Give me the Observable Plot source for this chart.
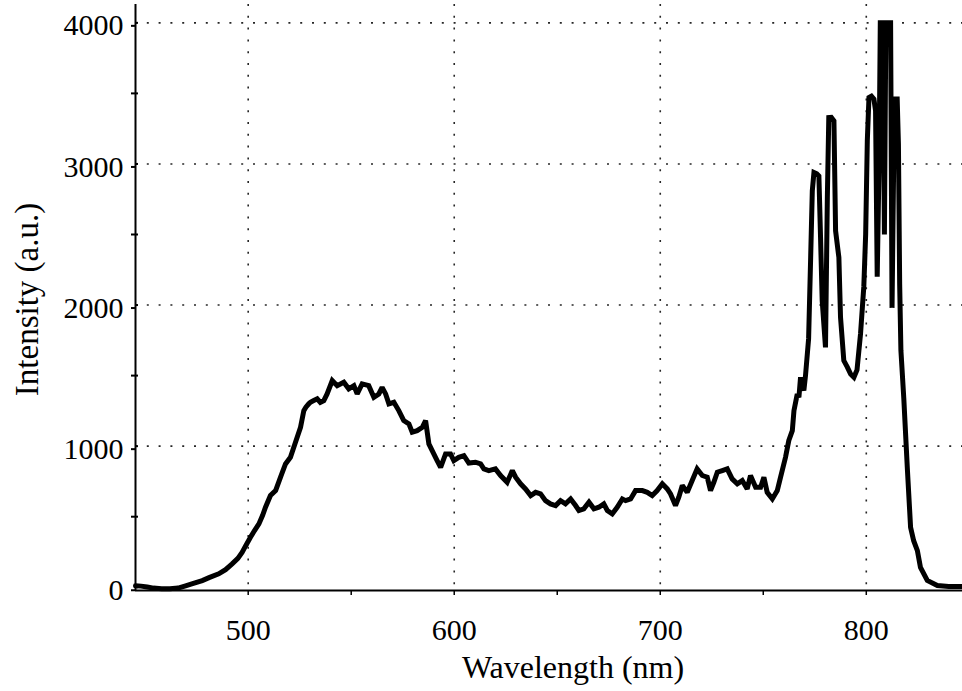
<!DOCTYPE html>
<html>
<head>
<meta charset="utf-8">
<script src="https://cdn.jsdelivr.net/npm/d3@7"></script>
<script src="https://cdn.jsdelivr.net/npm/@observablehq/plot@0.6"></script>
<style>
  html, body { margin: 0; padding: 0; background: #fff; }
  #chart { width: 962px; height: 691px; }
</style>
</head>
<body>
<div id="chart"></div>
<script>
// ---- Data ----
const wavelength = [
  445.3, 448, 451, 454, 458, 462, 466, 469.6, 473, 477.7, 481, 485.7, 489, 492.2, 495, 497.1, 499,
  501.1, 503, 505.2, 507, 508.4, 510.8, 513.3, 515.7, 518.1, 520.5, 523, 525.4, 527, 528, 529.4,
  530.2, 531.8, 533.5, 535, 536.7, 538.3, 540.8, 543.2, 546.4, 548.8, 551.3, 552.9, 555.3, 558.5,
  561, 563.4, 565, 566.7, 568.3, 570.7, 573.1, 575.5, 578, 579.6, 582, 584.5, 586.1, 587.7, 589.3,
  591.7, 593.4, 595.8, 598.2, 599.8, 602.2, 604.7, 607.1, 610.3, 612.8, 614.4, 616.8, 620, 622.5,
  625.7, 628.2, 629.8, 632.2, 634.6, 637.1, 639.5, 641.9, 644.3, 646.7, 649.2, 651.6, 654, 656.5,
  658.9, 660.5, 662.9, 665.4, 667.8, 670.2, 672.6, 674.3, 676.7, 679.1, 681.6, 683.2, 685.6, 688,
  691.3, 693.7, 696.1, 698.5, 701, 703.4, 705, 707.4, 709, 710.7, 713.1, 715.5, 717.9, 720.4, 722.8,
  724.4, 726, 727.7, 730.1, 732.5, 734.9, 737.4, 739.8, 742.2, 743.8, 746.3, 748.7, 750.3, 751.9,
  754.4, 756.8, 758.4, 760.8, 762.4, 764.1, 764.9, 766.5, 767.3, 768.1, 769.7, 770.5, 772, 773,
  773.8, 774.6, 776, 777, 777.8, 778.6, 780.2, 781.1, 781.8, 783, 784.3, 785.1, 786.7, 787.5, 789.1,
  790.8, 792.4, 794, 795.5, 797.2, 798.8, 799.7, 800.5, 801.3, 802.5, 803.7, 804.5, 805.3, 806.2,
  806.8, 808, 808.8, 809.5, 811, 811.8, 812.5, 813.3, 814, 815, 815.6, 816.2, 816.8, 818.2, 819.9,
  821.5, 823, 824.8, 826.3, 829.6, 834.5, 840, 846.7
];
const intensity = [
  10, 8, 2, -6, -10, -10, -6, 10, 25, 47, 68, 95, 125, 166, 205, 248, 300,
  354, 400, 449, 510, 567, 650, 685, 780, 874, 921, 1030, 1134, 1252, 1276, 1300,
  1311, 1323, 1335, 1310, 1323, 1370, 1465, 1429, 1453, 1406, 1429, 1370, 1441, 1429,
  1346, 1370, 1417, 1370, 1300, 1311, 1252, 1181, 1158, 1099, 1110, 1134, 1181, 1016, 969,
  898, 850, 945, 945, 898, 921, 933, 880, 886, 874, 839, 827, 839, 792,
  744, 827, 780, 733, 697, 650, 673, 662, 614, 591, 579, 614, 591, 626,
  579, 544, 556, 603, 556, 567, 591, 544, 520, 567, 626, 614, 626, 685,
  685, 673, 650, 685, 733, 697, 661, 579, 638, 721, 673, 756, 839, 792, 780,
  685, 744, 815, 827, 839, 768, 733, 756, 697, 792, 709, 709, 780, 673,
  626, 685, 780, 921, 1040, 1110, 1252, 1370, 1346, 1488, 1394, 1500, 1760, 2337,
  2810, 2939, 2930, 2915, 2479, 2031, 1700, 2762, 3329, 3330, 3305, 2526, 2337, 1912, 1606,
  1560, 1511, 1488, 1540, 1795, 2130, 2503, 3164, 3471, 3480, 3460, 3378, 2200, 3000,
  4000, 4000, 2500, 4000, 4000, 4000, 1980, 3000, 3460, 3460, 3140, 2150, 1680, 1340, 850,
  425, 330, 260, 140, 48, 12, 5, 5
];

const xDomain = [445.3, 846.7];
const yDomain = [-23, 4130];
const xMajorTicks = [500, 600, 700, 800];
const xMinorTicks = [550, 650, 750];
const yMajorTicks = [0, 1000, 2000, 3000, 4000];
const yMinorTicks = [500, 1500, 2500, 3500];
const yGridTicks = [1000, 2000, 3000, 4000];
const xTitle = "Wavelength (nm)";
const yTitle = "Intensity (a.u.)";

const spectrum = wavelength.map((w, i) => ({wavelength: w, intensity: intensity[i]}));

const serif = "'Liberation Serif', 'Times New Roman', 'DejaVu Serif', serif";
const blank = () => "";
const plain = d => String(d);

const chart = Plot.plot({
  width: 962,
  height: 691,
  marginLeft: 135,
  marginRight: 0,
  marginTop: 4,
  marginBottom: 101,
  style: {fontFamily: serif, background: "#fff", color: "#000"},
  x: {domain: xDomain},
  y: {domain: yDomain},
  marks: [
    Plot.gridX(xMajorTicks, {stroke: "#000", strokeOpacity: 0.85, strokeWidth: 1.6, strokeDasharray: "2,9.8"}),
    Plot.gridY(yGridTicks, {stroke: "#000", strokeOpacity: 0.85, strokeWidth: 1.6, strokeDasharray: "2,9.8"}),
    Plot.ruleX([xDomain[0]], {stroke: "#000", strokeWidth: 2}),
    Plot.ruleY([yDomain[0]], {stroke: "#000", strokeWidth: 2}),
    Plot.axisX(xMajorTicks, {tickSize: 5, tickPadding: 23, fontSize: 30, tickFormat: plain, label: null, strokeWidth: 1.5}),
    Plot.axisX(xMinorTicks, {tickSize: 5, tickFormat: blank, label: null, strokeWidth: 1.5}),
    Plot.axisY(yMajorTicks, {tickSize: 4, tickPadding: 8, fontSize: 30, dy: 3, tickFormat: plain, label: null, strokeWidth: 2}),
    Plot.axisY(yMinorTicks, {tickSize: 4, tickFormat: blank, label: null, strokeWidth: 2}),
    Plot.axisY(yMajorTicks.concat(yMinorTicks), {tickSize: -3, tickFormat: blank, label: null, strokeWidth: 2}),
    Plot.line(spectrum, {x: "wavelength", y: "intensity", stroke: "#000", strokeWidth: 5, strokeLinejoin: "miter", strokeMiterlimit: 2}),
    Plot.text([xTitle], {text: d => d, frameAnchor: "bottom", lineAnchor: "middle", textAnchor: "middle", dx: 24, dy: 77, fontSize: 32, fill: "#000"}),
    Plot.text([yTitle], {text: d => d, frameAnchor: "left", lineAnchor: "middle", textAnchor: "middle", rotate: -90, dx: -108, dy: 2, fontSize: 33, fill: "#000"})
  ]
});
document.getElementById("chart").appendChild(chart);
</script>
</body>
</html>
